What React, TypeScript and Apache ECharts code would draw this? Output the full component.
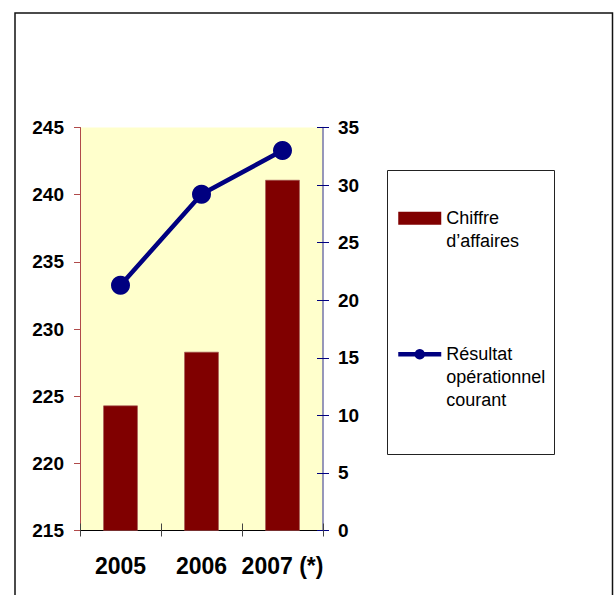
import React, { useEffect, useRef } from "react";
import * as echarts from "echarts";

const categories = ["2005", "2006", "2007 (*)"];
const chiffreAffaires = [224.3, 228.3, 241.1];
const resultatOperationnel = [21.3, 29.2, 33.0];
const seriesNames = ["Chiffre d’affaires", "Résultat opérationnel courant"];
const legendLabels = ["\nChiffre\nd’affaires", "\n\nRésultat\nopérationnel\ncourant"];

const FONT = "'Liberation Sans', Arial, sans-serif";

export default function App() {
  const ref = useRef<HTMLDivElement>(null);
  useEffect(() => {
    if (!ref.current) return;
    const chart = echarts.init(ref.current, undefined, { renderer: "svg" });
    chart.setOption({
      animation: false,
      backgroundColor: "#ffffff",
      textStyle: { fontFamily: FONT },
      grid: {
        left: 80,
        right: 291,
        top: 127.5,
        bottom: 64.5,
        show: true,
        backgroundColor: "#ffffcc",
        borderWidth: 0,
      },
      legend: {
        orient: "vertical",
        left: 396,
        top: 183.8,
        padding: 0,
        itemGap: 44,
        itemWidth: 43,
        itemHeight: 13,
        data: [
          { name: seriesNames[0], icon: "rect", itemStyle: { borderWidth: 0 } },
          { name: seriesNames[1], lineStyle: { width: 4.5 } },
        ],
        formatter: (name: string) => legendLabels[seriesNames.indexOf(name)],
        textStyle: { fontFamily: FONT, fontSize: 18, lineHeight: 23, color: "#000" },
        selectedMode: false,
      },
      graphic: [
        {
          type: "rect",
          shape: { x: 15, y: 13, width: 597.5, height: 600 },
          style: { fill: "none", stroke: "#111", lineWidth: 1.5 },
          silent: true,
        },
        {
          type: "rect",
          shape: { x: 387.5, y: 170.5, width: 167, height: 284 },
          style: { fill: "none", stroke: "#222", lineWidth: 1 },
          silent: true,
        },
      ],
      xAxis: [
        {
          type: "category",
          data: categories,
          position: "bottom",
          axisLine: { show: true, lineStyle: { color: "#000", width: 1 } },
          axisTick: { show: true, length: 6, lineStyle: { color: "#444" } },
          axisLabel: {
            interval: 0,
            hideOverlap: false,
            fontFamily: FONT,
            fontSize: 23,
            fontWeight: "bold",
            color: "#000",
            margin: 24,
          },
          splitLine: { show: false },
        },
        {
          type: "category",
          data: categories,
          position: "bottom",
          axisLine: { show: false },
          axisTick: { show: true, inside: true, length: 7, lineStyle: { color: "#444" } },
          axisLabel: { show: false },
          splitLine: { show: false },
        },
      ],
      yAxis: [
        {
          type: "value",
          position: "left",
          min: 215,
          max: 245,
          interval: 5,
          axisLine: { show: true, lineStyle: { color: "#b04a4a", width: 1 } },
          axisTick: { show: true, length: 6, lineStyle: { color: "#b04a4a" } },
          axisLabel: {
            fontFamily: FONT,
            fontSize: 19,
            fontWeight: "bold",
            color: "#000",
            margin: 16,
          },
          splitLine: { show: false },
        },
        {
          type: "value",
          position: "right",
          min: 0,
          max: 35,
          interval: 5,
          axisLine: { show: true, lineStyle: { color: "#7474aa", width: 1.5 } },
          axisTick: { show: true, length: 6, lineStyle: { color: "#000080" } },
          axisLabel: {
            fontFamily: FONT,
            fontSize: 19,
            fontWeight: "bold",
            color: "#000",
            margin: 15,
          },
          splitLine: { show: false },
        },
        {
          type: "value",
          position: "right",
          min: 0,
          max: 35,
          interval: 5,
          axisLine: { show: false },
          axisTick: { show: true, inside: true, length: 6, lineStyle: { color: "#000080" } },
          axisLabel: { show: false },
          splitLine: { show: false },
        },
      ],
      series: [
        {
          name: seriesNames[0],
          type: "bar",
          xAxisIndex: 0,
          yAxisIndex: 0,
          data: chiffreAffaires,
          barWidth: 34.5,
          itemStyle: { color: "#800000", borderColor: "#a05050", borderWidth: 0.6 },
        },
        {
          name: seriesNames[1],
          type: "line",
          xAxisIndex: 0,
          yAxisIndex: 1,
          data: resultatOperationnel,
          symbol: "circle",
          symbolSize: 19,
          lineStyle: { color: "#000080", width: 4.5 },
          itemStyle: { color: "#000080" },
          z: 5,
        },
      ],
    });
    return () => chart.dispose();
  }, []);
  return (
    <div
      ref={ref}
      style={{ position: "absolute", left: 0, top: 0, width: 614, height: 595 }}
    />
  );
}
